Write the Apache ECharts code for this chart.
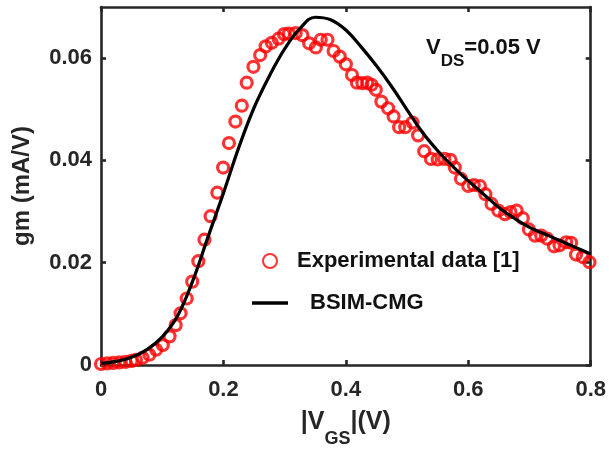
<!DOCTYPE html>
<html>
<head>
<meta charset="utf-8">
<script src="https://cdn.jsdelivr.net/npm/echarts@6/dist/echarts.min.js"></script>
<style>
  html, body { margin: 0; padding: 0; background: #fff; }
  #chart { width: 609px; height: 453px; }
</style>
</head>
<body>
<div id="chart"></div>
<script>
// measured transconductance (circles)
const expVgs = [0, 0.01, 0.02, 0.03, 0.04, 0.05, 0.057, 0.068, 0.079, 0.09, 0.101, 0.112, 0.122, 0.13, 0.14,
  0.149, 0.159, 0.169, 0.179, 0.19, 0.1995, 0.209, 0.2195, 0.23, 0.238, 0.249, 0.26, 0.269, 0.279, 0.29,
  0.299, 0.307, 0.318, 0.329, 0.34, 0.351, 0.359, 0.37, 0.38, 0.39, 0.4, 0.41, 0.418, 0.427, 0.435, 0.442,
  0.449, 0.458, 0.469, 0.478, 0.487, 0.497, 0.509, 0.518, 0.528, 0.539, 0.55, 0.561, 0.571, 0.578, 0.588,
  0.6, 0.609, 0.619, 0.628, 0.638, 0.649, 0.66, 0.669, 0.679, 0.689, 0.699, 0.709, 0.719, 0.729, 0.74,
  0.749, 0.76, 0.768, 0.776, 0.787, 0.798]
const expGm = [0.0002, 0.0003, 0.0004, 0.0005, 0.0006, 0.0008, 0.001, 0.0014, 0.002, 0.003, 0.0039, 0.0056, 0.0078, 0.0101, 0.013,
  0.0163, 0.0203, 0.0245, 0.0291, 0.0337, 0.0386, 0.0434, 0.0476, 0.0507, 0.0552, 0.0583, 0.0606, 0.0623, 0.063, 0.0638,
  0.0647, 0.0648, 0.0649, 0.0645, 0.0629, 0.0621, 0.0636, 0.0636, 0.0614, 0.0603, 0.0588, 0.0567, 0.0552, 0.0551, 0.0552, 0.0548,
  0.0538, 0.0515, 0.0502, 0.0486, 0.0465, 0.0465, 0.0474, 0.0449, 0.0418, 0.0403, 0.0402, 0.0403, 0.0401, 0.0386, 0.0364,
  0.035, 0.0352, 0.035, 0.0334, 0.0315, 0.0302, 0.0295, 0.0299, 0.0302, 0.0287, 0.0265, 0.0253, 0.0253, 0.0247, 0.0232,
  0.0234, 0.024, 0.0239, 0.0216, 0.0211, 0.0201]

// model curve (solid line)
const bsimVgs = [0, 0.025, 0.05, 0.075, 0.1, 0.125, 0.15, 0.175, 0.2, 0.225, 0.25, 0.275, 0.3, 0.325, 0.35, 0.375,
  0.4, 0.425, 0.45, 0.475, 0.5, 0.525, 0.55, 0.575, 0.6, 0.625, 0.65, 0.675, 0.7, 0.725, 0.75, 0.775, 0.8]
const bsimGm = [0.0003, 0.0007, 0.0015, 0.003, 0.0055, 0.0096, 0.0165, 0.0251, 0.0336, 0.0425, 0.0503, 0.0565, 0.0618, 0.0658, 0.068, 0.0675,
  0.0655, 0.0622, 0.0585, 0.0544, 0.0499, 0.0455, 0.0419, 0.0388, 0.036, 0.0334, 0.0308, 0.0287, 0.0269, 0.0256, 0.0243, 0.023, 0.0217]

const xTicks = [0, 0.2, 0.4, 0.6, 0.8]
const yTicks = [0, 0.02, 0.04, 0.06]

const FONT = '"Liberation Sans", Arial, sans-serif'
const AXIS_COLOR = '#262626'

const chart = echarts.init(document.getElementById('chart'))

const tickStyle = (values) => ({
  show: true, inside: true, length: 5, customValues: values,
  lineStyle: { color: AXIS_COLOR, width: 2.6 }
})

const boxAxis = (extra) => Object.assign({
  type: 'value',
  axisLine: { show: true, onZero: false, lineStyle: { color: AXIS_COLOR, width: 2.6 } },
  splitLine: { show: false }
}, extra)

const option = {
  animation: false,
  backgroundColor: '#fff',
  grid: { left: 101, right: 17, top: 7, bottom: 86 },
  xAxis: [
    boxAxis({
      min: 0, max: 0.8, position: 'bottom',
      axisTick: tickStyle(xTicks),
      axisLabel: { customValues: xTicks, margin: 14, color: AXIS_COLOR, fontFamily: FONT, fontWeight: 'bold', fontSize: 22 },
      name: '{a||V}{b|GS}{a||(V)}',
      nameLocation: 'middle',
      nameGap: 45,
      nameTextStyle: {
        rich: {
          // subscript drops below the main text line
          a: { fontFamily: FONT, fontWeight: 'bold', fontSize: 25, color: AXIS_COLOR, lineHeight: 38, verticalAlign: 'top' },
          b: { fontFamily: FONT, fontWeight: 'bold', fontSize: 18, color: AXIS_COLOR, verticalAlign: 'bottom' }
        }
      }
    }),
    boxAxis({
      min: 0, max: 0.8, position: 'top',
      axisTick: tickStyle(xTicks),
      axisLabel: { show: false }
    })
  ],
  yAxis: [
    boxAxis({
      min: 0, max: 0.07, position: 'left',
      axisTick: tickStyle(yTicks),
      axisLabel: { customValues: yTicks, margin: 9, color: AXIS_COLOR, fontFamily: FONT, fontWeight: 'bold', fontSize: 22 },
      name: 'gm (mA/V)',
      nameLocation: 'middle',
      nameGap: 67,
      nameTextStyle: { fontFamily: FONT, fontWeight: 'bold', fontSize: 24, color: AXIS_COLOR }
    }),
    boxAxis({
      min: 0, max: 0.07, position: 'right',
      axisTick: tickStyle(yTicks),
      axisLabel: { show: false }
    })
  ],
  legend: [
    {
      data: ['Experimental data [1]'],
      left: 262, top: 250, padding: 0,
      itemWidth: 14, itemHeight: 14,
      textStyle: { fontFamily: FONT, fontWeight: 'bold', fontSize: 22, color: '#111', padding: [0, 0, 0, 15] }
    },
    {
      data: [{ name: 'BSIM-CMG', icon: 'rect' }],
      left: 252, top: 292, padding: 0,
      itemWidth: 36, itemHeight: 3.5,
      textStyle: { fontFamily: FONT, fontWeight: 'bold', fontSize: 22, color: '#111', padding: [0, 0, 0, 17] }
    }
  ],
  graphic: [
    {
      type: 'text',
      left: 426, top: 37,
      style: {
        text: '{a|V}{b|DS}{a|=0.05 V}',
        rich: {
          a: { fontFamily: FONT, fontWeight: 'bold', fontSize: 22, fill: '#111', lineHeight: 33, verticalAlign: 'top' },
          b: { fontFamily: FONT, fontWeight: 'bold', fontSize: 17, fill: '#111', verticalAlign: 'bottom' }
        }
      }
    }
  ],
  series: [
    {
      name: 'Experimental data [1]',
      type: 'scatter',
      data: expVgs.map((v, i) => [v, expGm[i]]),
      symbol: 'circle',
      symbolSize: 11,
      itemStyle: { color: 'rgba(255,0,0,0)', borderColor: '#ff0000', borderWidth: 3.2 },
      xAxisIndex: 0,
      yAxisIndex: 0
    },
    {
      name: 'BSIM-CMG',
      type: 'line',
      data: bsimVgs.map((v, i) => [v, bsimGm[i]]),
      smooth: 0.4,
      showSymbol: false,
      symbol: 'none',
      lineStyle: { color: '#000', width: 3.2 },
      itemStyle: { color: '#000' },
      xAxisIndex: 0,
      yAxisIndex: 0
    }
  ]
}

chart.setOption(option)
</script>
</body>
</html>
